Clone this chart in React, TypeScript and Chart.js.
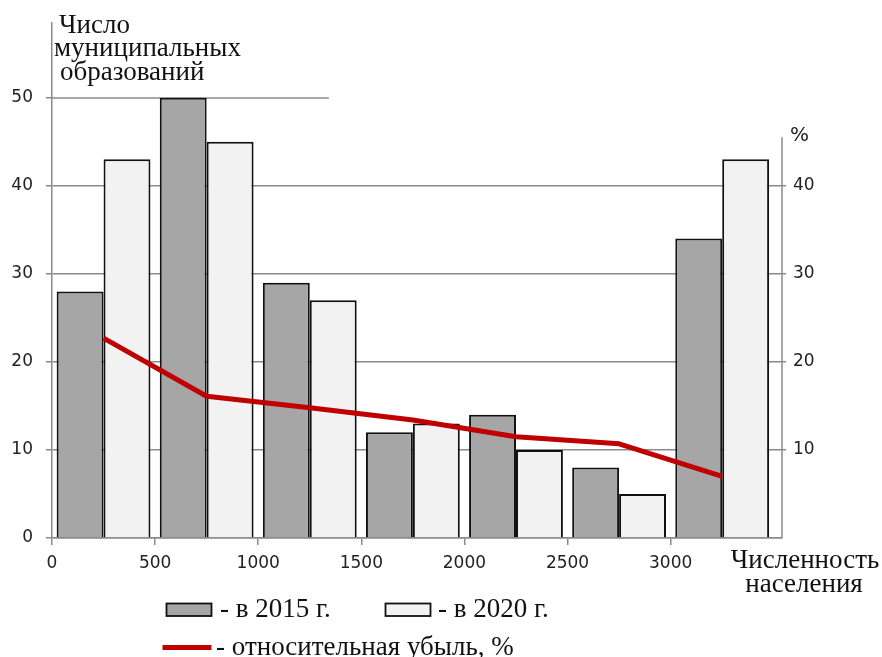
import { useEffect, useRef } from 'react';
import { Chart, registerables } from 'chart.js';

Chart.register(...registerables);

// ---- data ----
const CATEGORIES = ['0–500', '500–1000', '1000–1500', '1500–2000', '2000–2500', '2500–3000', '>3000'];
const GROUP_CENTERS = [250, 750, 1250, 1750, 2250, 2750, 3250];
const MUNI_2015 = [28, 50, 29, 12, 14, 8, 34];
const MUNI_2020 = [43, 45, 27, 13, 10, 5, 43];
const DECLINE_PCT = [22.7, 16.1, 14.8, 13.4, 11.5, 10.7, 7.0];
const X_TICKS = [0, 500, 1000, 1500, 2000, 2500, 3000];
const Y_TICKS = [0, 10, 20, 30, 40, 50];
const Y1_TICKS = [10, 20, 30, 40];

const Y_TITLE = ['Число', 'муниципальных', 'образований'];
const X_TITLE = ['Численность', 'населения'];
const Y1_TITLE = '%';
const LABEL_2015 = 'в 2015 г.';
const LABEL_2020 = 'в 2020 г.';
const LABEL_DECLINE = 'относительная убыль, %';

// ---- styles ----
const GRID = '#8a8a8a';
const TEXT = '#222222';
const RED = '#c00000';
const GRAY = '#a6a6a6';
const LIGHT = '#f2f2f2';
const EDGE = '#111111';
const SANS = "'DejaVu Sans', sans-serif";
const SERIF = "'Liberation Serif', 'Times New Roman', serif";
const Y_MAX = 58.46;
const X_MAX = 3540;

const overlay = {
  id: 'overlay',
  beforeDatasetsDraw(chart: any) {
    const { ctx, chartArea, scales } = chart;
    const y = Math.round(scales.y.getPixelForValue(50));
    ctx.save();
    ctx.strokeStyle = GRID;
    ctx.lineWidth = 1.5;
    ctx.beginPath();
    ctx.moveTo(chartArea.left, y);
    ctx.lineTo(scales.x.getPixelForValue(1343), y);
    ctx.stroke();
    ctx.restore();
  },
  afterDraw(chart: any) {
    const { ctx, chartArea, scales } = chart;
    ctx.save();
    // right axis line
    ctx.strokeStyle = GRID;
    ctx.lineWidth = 1.5;
    ctx.beginPath();
    ctx.moveTo(chartArea.right, scales.y1.getPixelForValue(45.5));
    ctx.lineTo(chartArea.right, chartArea.bottom);
    ctx.stroke();

    // y title
    ctx.fillStyle = '#111';
    ctx.textBaseline = 'alphabetic';
    ctx.textAlign = 'left';
    ctx.font = `27px ${SERIF}`;
    ctx.fillText(Y_TITLE[0], 59, 33);
    ctx.fillText(Y_TITLE[1], 54, 56);
    ctx.fillText(Y_TITLE[2], 60, 80);

    // % title
    ctx.font = `20px ${SANS}`;
    ctx.fillStyle = TEXT;
    ctx.fillText(Y1_TITLE, 790, 141);

    // x title
    ctx.fillStyle = '#111';
    ctx.font = `27px ${SERIF}`;
    ctx.textAlign = 'center';
    ctx.fillText(X_TITLE[0], 805, 568);
    ctx.fillText(X_TITLE[1], 804, 592);

    // legend
    ctx.textAlign = 'left';
    ctx.lineWidth = 1.8;
    ctx.strokeStyle = EDGE;
    ctx.fillStyle = GRAY;
    ctx.fillRect(166.5, 603.5, 45, 12.5);
    ctx.strokeRect(166.5, 603.5, 45, 12.5);
    ctx.fillStyle = LIGHT;
    ctx.fillRect(385.5, 603.5, 45, 12.5);
    ctx.strokeRect(385.5, 603.5, 45, 12.5);
    ctx.fillStyle = '#111';
    ctx.fillText('- ' + LABEL_2015, 220, 617);
    ctx.fillText('- ' + LABEL_2020, 438, 617);
    ctx.strokeStyle = RED;
    ctx.lineWidth = 5;
    ctx.beginPath();
    ctx.moveTo(162.5, 647.5);
    ctx.lineTo(211.5, 647.5);
    ctx.stroke();
    ctx.fillText('- ' + LABEL_DECLINE, 216, 655);
    ctx.restore();
  },
};

export default function App() {
  const ref = useRef<HTMLCanvasElement>(null);
  useEffect(() => {
    const canvas = ref.current!;
    Chart.defaults.font.family = SANS;
    const chart = new Chart(canvas, {
      type: 'bar',
      data: {
        labels: CATEGORIES,
        datasets: [
          {
            type: 'line',
            label: LABEL_DECLINE,
            data: GROUP_CENTERS.map((x, i) => ({ x, y: DECLINE_PCT[i] })),
            yAxisID: 'y1',
            borderColor: RED,
            borderWidth: 5,
            pointRadius: 0,
            tension: 0,
            order: 0,
            borderJoinStyle: 'round',
          } as any,
          {
            type: 'bar',
            label: LABEL_2015,
            data: GROUP_CENTERS.map((x, i) => ({ x, y: MUNI_2015[i] })),
            yAxisID: 'y',
            backgroundColor: GRAY,
            borderColor: EDGE,
            borderWidth: 2,
            categoryPercentage: 0.91,
            barPercentage: 1,
            order: 1,
          } as any,
          {
            type: 'bar',
            label: LABEL_2020,
            data: GROUP_CENTERS.map((x, i) => ({ x, y: MUNI_2020[i] })),
            yAxisID: 'y',
            backgroundColor: LIGHT,
            borderColor: EDGE,
            borderWidth: 2,
            categoryPercentage: 0.91,
            barPercentage: 1,
            order: 2,
          } as any,
        ],
      },
      options: {
        responsive: false,
        animation: false,
        layout: { padding: { top: 22, left: 0, right: 0, bottom: 0 } },
        plugins: { legend: { display: false }, tooltip: { enabled: false } },
        scales: {
          x: {
            type: 'linear',
            min: 0,
            max: X_MAX,
            offset: false,
            afterBuildTicks: (s: any) => {
              s.ticks = X_TICKS.map((v) => ({ value: v }));
            },
            afterFit: (s: any) => {
              s.height = 119;
            },
            grid: { drawOnChartArea: false, offset: false, tickLength: 7, color: GRID, lineWidth: 1.5 },
            border: { color: GRID, width: 1.5 },
            ticks: {
              font: { size: 17, family: SANS },
              color: TEXT,
              padding: 8,
              maxRotation: 0,
              autoSkip: false,
              callback: (v: any) => String(v),
            },
          },
          y: {
            position: 'left',
            min: 0,
            max: Y_MAX,
            afterBuildTicks: (s: any) => {
              s.ticks = Y_TICKS.map((v) => ({ value: v }));
            },
            afterFit: (s: any) => {
              s.width = 52;
            },
            grid: {
              color: (c: any) => (c.tick && c.tick.value === 50 ? 'rgba(0,0,0,0)' : GRID),
              tickColor: GRID,
              tickLength: 6,
              lineWidth: 1.5,
            },
            border: { color: GRID, width: 1.5 },
            ticks: { font: { size: 17, family: SANS }, color: TEXT, padding: 13, callback: (v: any) => String(v) },
          },
          y1: {
            position: 'right',
            min: 0,
            max: Y_MAX,
            afterBuildTicks: (s: any) => {
              s.ticks = Y1_TICKS.map((v) => ({ value: v }));
            },
            afterFit: (s: any) => {
              s.width = 100;
            },
            grid: { drawOnChartArea: false, tickLength: 4, color: GRID, lineWidth: 1.5 },
            border: { display: false },
            ticks: { font: { size: 17, family: SANS }, color: TEXT, padding: 7, callback: (v: any) => String(v) },
          },
        },
      } as any,
      plugins: [overlay],
    });
    return () => chart.destroy();
  }, []);
  return (
    <canvas
      ref={ref}
      width={882}
      height={657}
      style={{ position: 'fixed', left: 0, top: 0, width: 882, height: 657, display: 'block' }}
    />
  );
}
